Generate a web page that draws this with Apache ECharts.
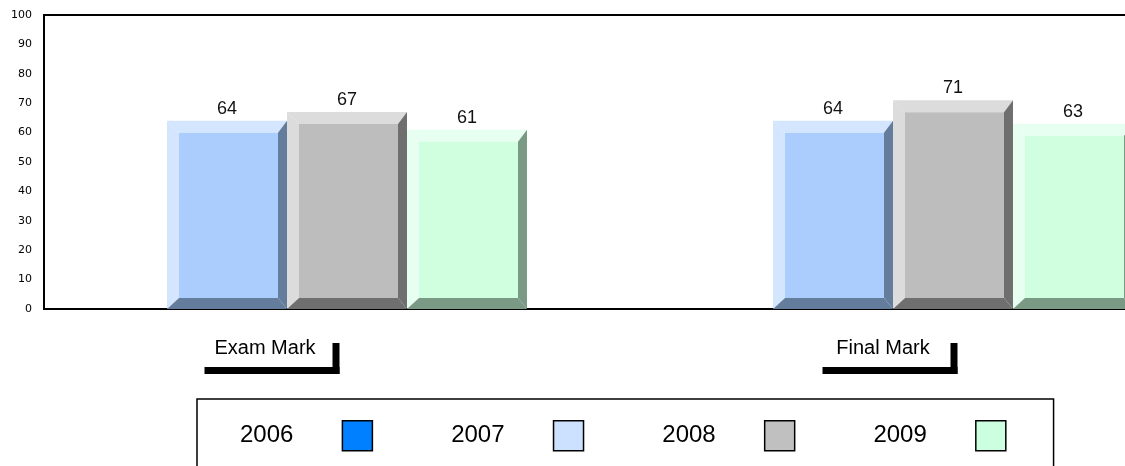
<!DOCTYPE html>
<html>
<head>
<meta charset="utf-8">
<title>Marks by year</title>
<script src="https://cdn.jsdelivr.net/npm/echarts@6/dist/echarts.min.js"></script>
<style>
  html, body { margin: 0; padding: 0; background: #fff; }
  #chart { width: 1125px; height: 466px; }
</style>
</head>
<body>
<div id="chart"></div>
<script>
// data
const categories = ["Exam Mark", "Final Mark"];
const seriesNames = ["2006", "2007", "2008", "2009"];
const values2006 = [null, null]; // no bars drawn for 2006
const values2007 = [64, 64];
const values2008 = [67, 71];
const values2009 = [61, 63];
const yMin = 0;
const yMax = 100;
const yStep = 10;

// looks
const legendColors = ["#0080ff", "#cce0ff", "#c0c0c0", "#ccffe0"];
const bevelColors = [
  null,
  { light: "#d4e5fe", face: "#abcdfe", dark: "#647d9c" },
  { light: "#dcdcdc", face: "#bdbdbd", dark: "#6f6f6f" },
  { light: "#e6fff0", face: "#d0ffe0", dark: "#7a9a86" },
];
const BAR_RATIO = 0.198; // bar width as part of the category band
const labelShift = [-82, -70]; // category label offset from band centre

const FONT = "Liberation Sans, Arial, sans-serif";

// beveled bar, slot 0..2 inside the category
function bevelBar(slot, pal) {
  return function (params, api) {
    const v = api.value(1);
    if (v == null || isNaN(v)) return;
    const band = api.size([1, 0])[0];
    const w = band * BAR_RATIO;
    const base = api.coord([api.value(0), 0]);
    const top = api.coord([api.value(0), v]);
    const x0 = base[0] - 1.5 * w + slot * w;
    const x1 = x0 + w;
    const y0 = top[1];
    const y1 = base[1];
    const L = 12, T = 12, R = 9, B = 11;
    const A = [x0, y0], Bp = [x1, y0], C = [x1, y1], D = [x0, y1];
    const a = [x0 + L, y0 + T], b = [x1 - R, y0 + T];
    const c = [x1 - R, y1 - B], d = [x0 + L, y1 - B];
    return {
      type: "group",
      children: [
        { type: "polygon", shape: { points: [A, Bp, b, a] }, style: { fill: pal.light } },
        { type: "polygon", shape: { points: [A, a, d, D] }, style: { fill: pal.light } },
        { type: "polygon", shape: { points: [Bp, C, c, b] }, style: { fill: pal.dark } },
        { type: "polygon", shape: { points: [D, C, c, d] }, style: { fill: pal.dark } },
        { type: "polygon", shape: { points: [a, b, c, d] }, style: { fill: pal.face } },
        {
          type: "text",
          style: {
            text: String(v),
            x: (x0 + x1) / 2,
            y: y0 - 3,
            align: "center",
            verticalAlign: "bottom",
            font: "18px " + FONT,
            fill: "#111",
          },
        },
      ],
    };
  };
}

const allValues = [values2006, values2007, values2008, values2009];

const series = seriesNames.map(function (name, i) {
  return {
    name: name,
    type: "custom",
    itemStyle: { color: legendColors[i] },
    encode: { x: 0, y: 1 },
    data: allValues[i].map(function (v, j) {
      return [j, v];
    }),
    renderItem: i === 0 ? function () { return; } : bevelBar(i - 1, bevelColors[i]),
  };
});

const chart = echarts.init(document.getElementById("chart"));

chart.setOption({
  animation: false,
  backgroundColor: "#fff",
  grid: {
    left: 44,
    top: 15,
    width: 1212,
    height: 294,
    outerBoundsMode: "none",
    show: true,
    borderColor: "#000",
    borderWidth: 2,
    backgroundColor: "transparent",
  },
  xAxis: {
    type: "category",
    data: categories.map(function (c, i) {
      return { value: c, textStyle: { padding: [0, -2 * labelShift[i], 0, 0] } };
    }),
    axisLine: { show: false },
    axisTick: { show: false },
    axisLabel: {
      fontSize: 20,
      fontFamily: FONT,
      color: "#000",
      margin: 29,
      interval: 0,
    },
  },
  yAxis: {
    type: "value",
    min: yMin,
    max: yMax,
    interval: yStep,
    splitLine: { show: false },
    axisLine: { show: false },
    axisTick: { show: false },
    axisLabel: {
      fontSize: 11,
      fontFamily: "DejaVu Sans",
      color: "#000",
      margin: 12,
    },
  },
  legend: {
    left: 197,
    top: 399,
    orient: "horizontal",
    align: "right",
    icon: "rect",
    itemWidth: 30,
    itemHeight: 30,
    itemGap: 78,
    padding: [21, 47, 40, 43],
    borderColor: "#000",
    borderWidth: 1.5,
    selectedMode: false,
    textStyle: {
      fontSize: 24,
      fontFamily: FONT,
      color: "#000",
      padding: [0, 44, 0, 0],
    },
    data: seriesNames.map(function (n, i) {
      return {
        name: n,
        itemStyle: { color: legendColors[i], borderColor: "#000", borderWidth: 1.5 },
      };
    }),
  },
  series: series,
});

// bracket under each category label
const brackets = categories.map(function (c, i) {
  const cx = chart.convertToPixel({ xAxisIndex: 0 }, i) + labelShift[i];
  const right = cx + 74.5;
  return {
    type: "group",
    silent: true,
    children: [
      { type: "rect", shape: { x: right - 135, y: 367, width: 135, height: 7 }, style: { fill: "#000" } },
      { type: "rect", shape: { x: right - 7, y: 343, width: 7, height: 31 }, style: { fill: "#000" } },
    ],
  };
});

chart.setOption({ graphic: brackets });
</script>
</body>
</html>
